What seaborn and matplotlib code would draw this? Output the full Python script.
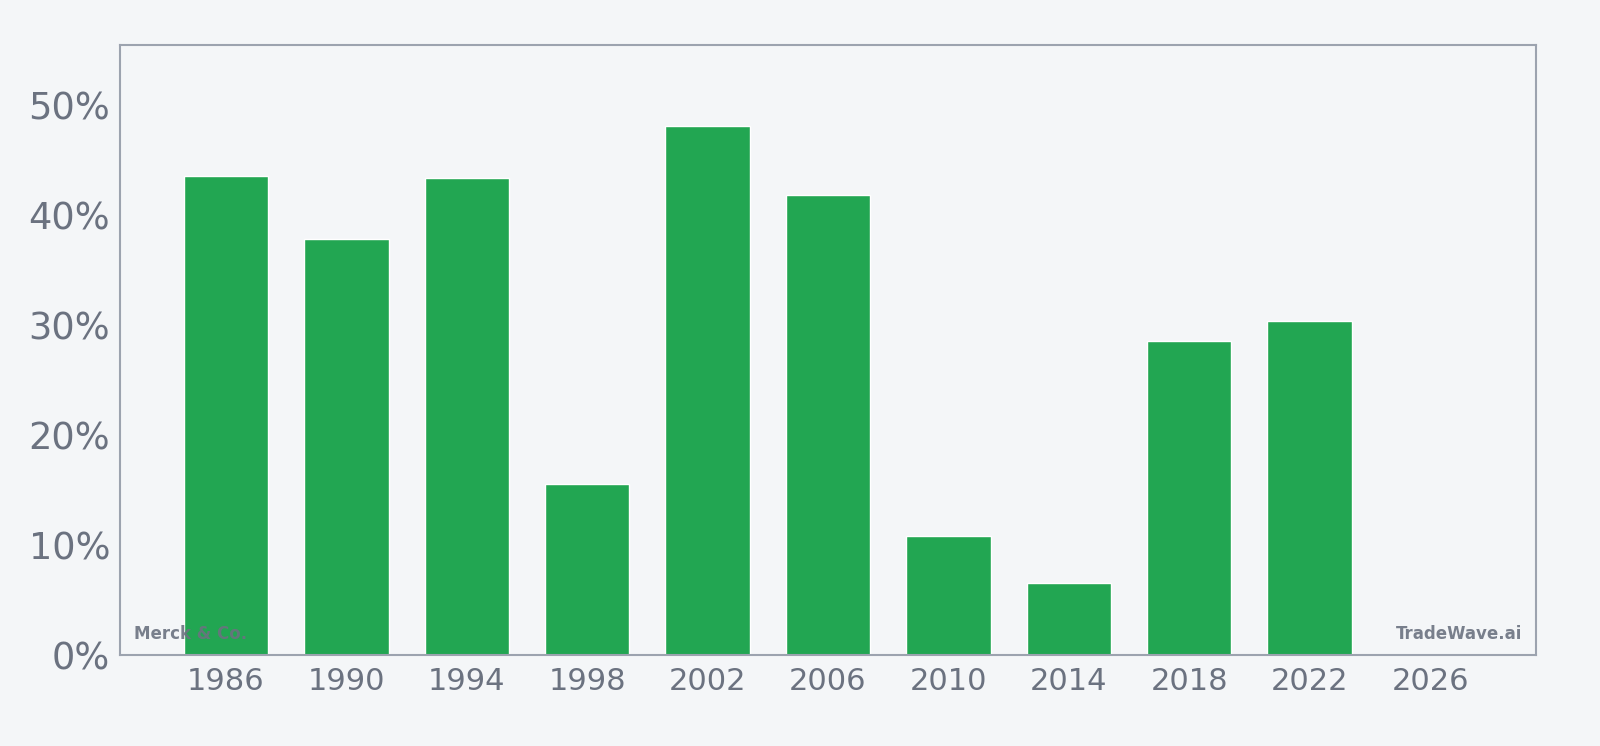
import matplotlib
matplotlib.use("Agg")
import matplotlib.pyplot as plt
import seaborn as sns
import pandas as pd
import numpy as np
from matplotlib.ticker import FuncFormatter

years = ["1986", "1990", "1994", "1998", "2002", "2006", "2010", "2014", "2018", "2022", "2026"]
values = [43.5, 37.8, 43.4, 15.5, 48.1, 41.8, 10.8, 6.5, 28.5, 30.4, np.nan]
y_ticks = [0, 10, 20, 30, 40, 50]

BG = "#f4f6f8"
GREEN = "#22a652"
TEXT = "#6b7280"
SPINE = "#9ca3af"

sns.set_style("white")
plt.rcParams['font.family'] = ['DejaVu Sans']

df = pd.DataFrame({"year": years, "value": values})

fig = plt.figure(figsize=(16, 7.46), dpi=100, facecolor=BG)
ax = fig.add_axes([120/1600, 1 - 655/746, 1416/1600, 610/746])
ax.set_facecolor(BG)

sns.barplot(data=df, x="year", y="value", order=years, color=GREEN,
            width=0.7, saturation=1, ax=ax, zorder=2)

ax.set_xlim(-0.88, 10.88)
ax.set_ylim(0, 55.45)
ax.set_yticks(y_ticks)
ax.yaxis.set_major_formatter(FuncFormatter(lambda v, p: f"{int(v)}%"))
ax.set_xlabel("")
ax.set_ylabel("")

for s in ax.spines.values():
    s.set_color(SPINE)
    s.set_linewidth(1.5)
    s.set_visible(True)

ax.tick_params(axis="y", labelsize=26.5, colors=SPINE, labelcolor=TEXT, length=6, width=1, pad=1)
ax.tick_params(axis="x", labelsize=22, colors=SPINE, labelcolor=TEXT, length=6, width=1, pad=3)

ax.text(0.01, 0.035, "Merck & Co.", transform=ax.transAxes, fontsize=12,
        fontweight="bold", color=TEXT, alpha=0.9, ha="left", va="center", zorder=5)
ax.text(0.99, 0.035, "TradeWave.ai", transform=ax.transAxes, fontsize=12,
        fontweight="bold", color=TEXT, alpha=0.9, ha="right", va="center", zorder=5)

fig.savefig("out.png", dpi=100, facecolor=BG)
